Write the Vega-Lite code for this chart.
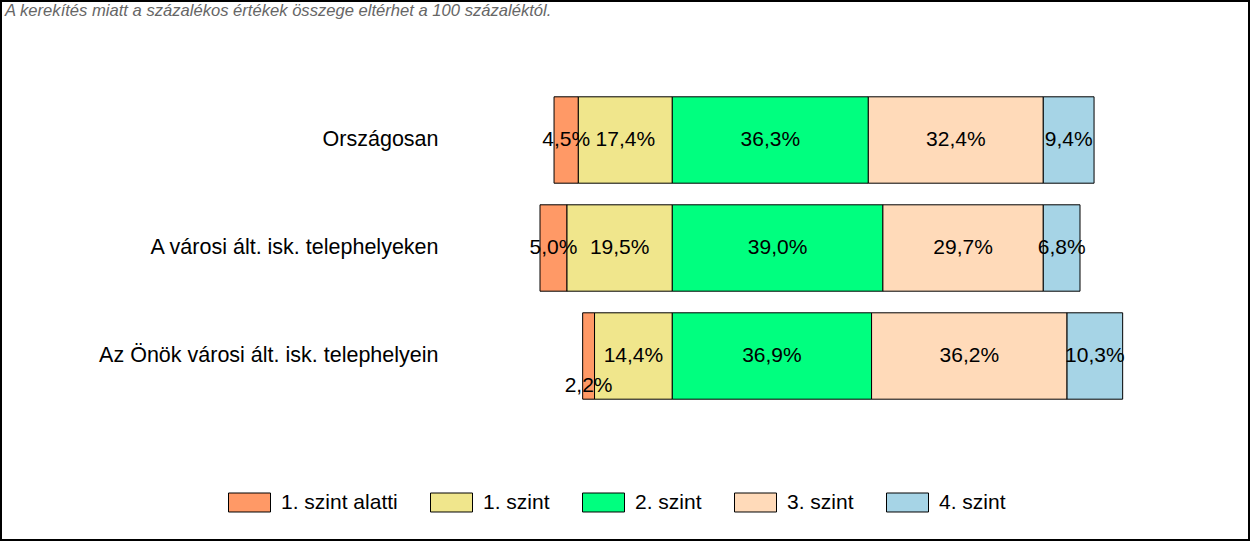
{
  "$schema": "https://vega.github.io/schema/vega-lite/v6.json",
  "width": 1250,
  "height": 541,
  "autosize": {"type": "none"},
  "padding": 0,
  "background": "white",
  "title": {
    "text": "A kerekítés miatt a  százalékos értékek összege eltérhet a 100 százaléktól.",
    "anchor": "start",
    "frame": "group",
    "orient": "top",
    "offset": -17,
    "baseline": "alphabetic",
    "dx": 5,
    "dy": 16,
    "font": "Liberation Sans",
    "fontStyle": "italic",
    "fontWeight": "normal",
    "fontSize": 16.6,
    "color": "#666666"
  },
  "data": {
    "values": [
      {"group": "Országosan", "level": "1. szint alatti", "value": -0.045},
      {"group": "Országosan", "level": "1. szint", "value": -0.174},
      {"group": "Országosan", "level": "2. szint", "value": 0.363},
      {"group": "Országosan", "level": "3. szint", "value": 0.324},
      {"group": "Országosan", "level": "4. szint", "value": 0.094},
      {"group": "A városi ált. isk. telephelyeken", "level": "1. szint alatti", "value": -0.050},
      {"group": "A városi ált. isk. telephelyeken", "level": "1. szint", "value": -0.195},
      {"group": "A városi ált. isk. telephelyeken", "level": "2. szint", "value": 0.390},
      {"group": "A városi ált. isk. telephelyeken", "level": "3. szint", "value": 0.297},
      {"group": "A városi ált. isk. telephelyeken", "level": "4. szint", "value": 0.068},
      {"group": "Az Önök városi ált. isk. telephelyein", "level": "1. szint alatti", "value": -0.022},
      {"group": "Az Önök városi ált. isk. telephelyein", "level": "1. szint", "value": -0.144},
      {"group": "Az Önök városi ált. isk. telephelyein", "level": "2. szint", "value": 0.369},
      {"group": "Az Önök városi ált. isk. telephelyein", "level": "3. szint", "value": 0.362},
      {"group": "Az Önök városi ált. isk. telephelyein", "level": "4. szint", "value": 0.103}
    ]
  },
  "encoding": {
    "y": {
      "field": "group",
      "type": "nominal",
      "sort": ["Országosan", "A városi ált. isk. telephelyeken", "Az Önök városi ált. isk. telephelyein"],
      "scale": {"range": [86, 410], "paddingInner": 0.2, "paddingOuter": 0.1},
      "axis": {
        "title": null,
        "orient": "left",
        "offset": -440,
        "domain": false,
        "ticks": false,
        "tickSize": 0,
        "grid": false,
        "labelPadding": 2,
        "labelAlign": "right",
        "labelBaseline": "middle",
        "labelFont": "Liberation Sans",
        "labelFontSize": 21.5,
        "labelColor": "#000000",
        "labelLimit": 600
      }
    },
    "x": {
      "field": "value",
      "type": "quantitative",
      "stack": "zero",
      "scale": {"domain": [-1.245, 1.0698], "nice": false, "zero": false},
      "axis": null
    },
    "order": {"field": "level", "sort": "ascending"}
  },
  "layer": [
    {
      "mark": {"type": "bar", "stroke": "#000000", "strokeWidth": 1},
      "encoding": {
        "color": {
          "field": "level",
          "type": "nominal",
          "scale": {
            "domain": ["1. szint alatti", "1. szint", "2. szint", "3. szint", "4. szint"],
            "range": ["#FF9966", "#F0E68C", "#00FF7F", "#FFDAB9", "#A6D4E6"]
          },
          "legend": {
            "orient": "none",
            "legendX": 228,
            "legendY": 481,
            "direction": "horizontal",
            "title": null,
            "padding": 0,
            "symbolType": "M-1,-0.452H1V0.452H-1Z",
            "symbolSize": 1764,
            "symbolStrokeColor": "#000000",
            "symbolStrokeWidth": 1,
            "symbolOpacity": 1,
            "labelFont": "Liberation Sans",
            "labelFontSize": 21,
            "labelColor": "#000000",
            "labelOffset": 10,
            "columnPadding": 30,
            "labelLimit": 300
          }
        }
      }
    },
    {
      "mark": {"type": "text", "font": "Liberation Sans", "fontSize": 21, "color": "#000000", "align": "center", "baseline": "middle"},
      "encoding": {
        "x": {"field": "value", "type": "quantitative", "stack": "zero", "bandPosition": 0.5},
        "detail": {"field": "level"},
        "text": {
          "condition": {"test": "abs(datum.value) >= 0.03", "field": "value", "type": "quantitative", "format": ".1%"},
          "value": ""
        }
      }
    },
    {
      "mark": {"type": "text", "font": "Liberation Sans", "fontSize": 21, "color": "#000000", "align": "center", "baseline": "middle", "dy": 30},
      "encoding": {
        "x": {"field": "value", "type": "quantitative", "stack": "zero", "bandPosition": 0.5},
        "detail": {"field": "level"},
        "text": {
          "condition": {"test": "abs(datum.value) < 0.03", "field": "value", "type": "quantitative", "format": ".1%"},
          "value": ""
        }
      }
    }
  ],
  "config": {
    "locale": {
      "number": {"decimal": ",", "thousands": " ", "grouping": [3], "currency": ["", ""], "minus": ""}
    },
    "view": {"stroke": "#000000", "strokeWidth": 4},
    "font": "Liberation Sans"
  }
}
